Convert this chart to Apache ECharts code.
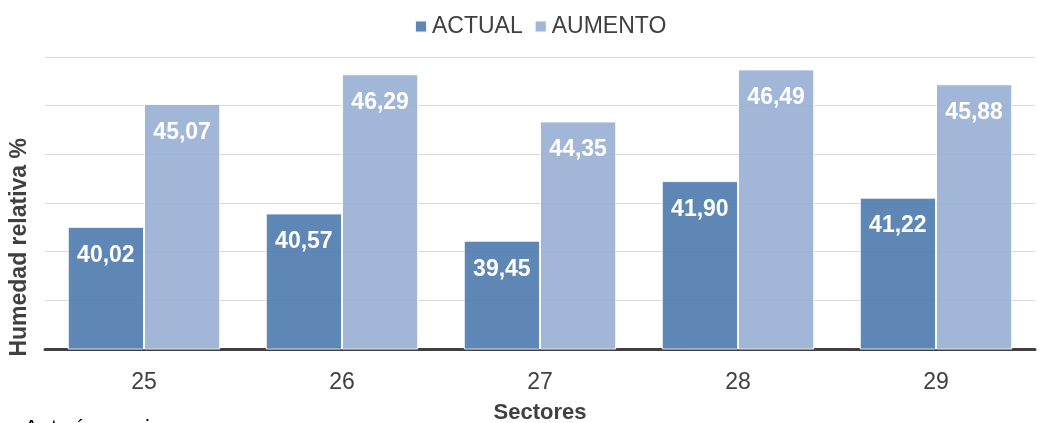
<!DOCTYPE html>
<html>
<head>
<meta charset="utf-8">
<script src="https://cdn.jsdelivr.net/npm/echarts@6/dist/echarts.min.js"></script>
<style>html,body{margin:0;padding:0;background:#fff}#c{width:1039px;height:423px}</style>
</head>
<body>
<div id="c"></div>
<script>
const categories = ['25', '26', '27', '28', '29'];
const actual = [40.02, 40.57, 39.45, 41.90, 41.22];
const aumento = [45.07, 46.29, 44.35, 46.49, 45.88];
const seriesNames = ['ACTUAL', 'AUMENTO'];

const fmt = p => p.value.toFixed(2).replace('.', ',');
const F = '"Liberation Sans", Arial, sans-serif';
const chart = echarts.init(document.getElementById('c'), null, {renderer: 'canvas'});
const lbl = {show: true, position: 'insideTop', distance: 17, color: '#fff', fontSize: 23, fontWeight: 'bold', fontFamily: F, formatter: fmt};
chart.setOption({
  animation: false,
  textStyle: {fontFamily: F},
  legend: {
    top: 10, left: 409, itemWidth: 12, itemHeight: 12, itemGap: 11,
    icon: 'rect',
    textStyle: {fontSize: 23, color: '#404040', fontFamily: F, padding: [0, 0, 0, 0]},
    data: seriesNames
  },
  grid: {left: 45, right: 4, top: 57, bottom: 74, outerBoundsMode: 'none', containLabel: false},
  xAxis: {
    type: 'category', data: categories,
    axisLine: {lineStyle: {color: '#404040', width: 3}},
    axisTick: {show: false},
    axisLabel: {fontSize: 23, color: '#404040', margin: 22, fontFamily: F},
    name: 'Sectores', nameLocation: 'middle', nameGap: 53,
    nameTextStyle: {fontSize: 22, fontWeight: 'bold', color: '#404040', fontFamily: F}
  },
  yAxis: {
    type: 'value', min: 35, max: 47, interval: 2,
    axisLabel: {show: false}, axisLine: {show: false}, axisTick: {show: false},
    splitLine: {lineStyle: {color: '#d9d9d9', width: 1}}
  },
  series: [
    {name: seriesNames[0], type: 'bar', data: actual, barGap: '0%', barCategoryGap: '23%',
     itemStyle: {color: 'rgba(77,122,173,0.9)', borderColor: 'rgba(255,255,255,0.9)', borderWidth: 1}, label: lbl},
    {name: seriesNames[1], type: 'bar', data: aumento,
     itemStyle: {color: 'rgba(152,174,211,0.9)', borderColor: 'rgba(255,255,255,0.9)', borderWidth: 1}, label: lbl}
  ],
  graphic: [
    {type: 'text', left: 8, top: 138, rotation: Math.PI / 2,
     style: {text: 'Humedad relativa %', fill: '#404040', font: 'bold 23px "Liberation Sans", Arial, sans-serif'}},
    {type: 'text', left: 24, top: 418,
     style: {text: 'Autoría propia', fill: '#000', font: '22px "Liberation Sans", Arial, sans-serif'}}
  ]
});
</script>
</body>
</html>
